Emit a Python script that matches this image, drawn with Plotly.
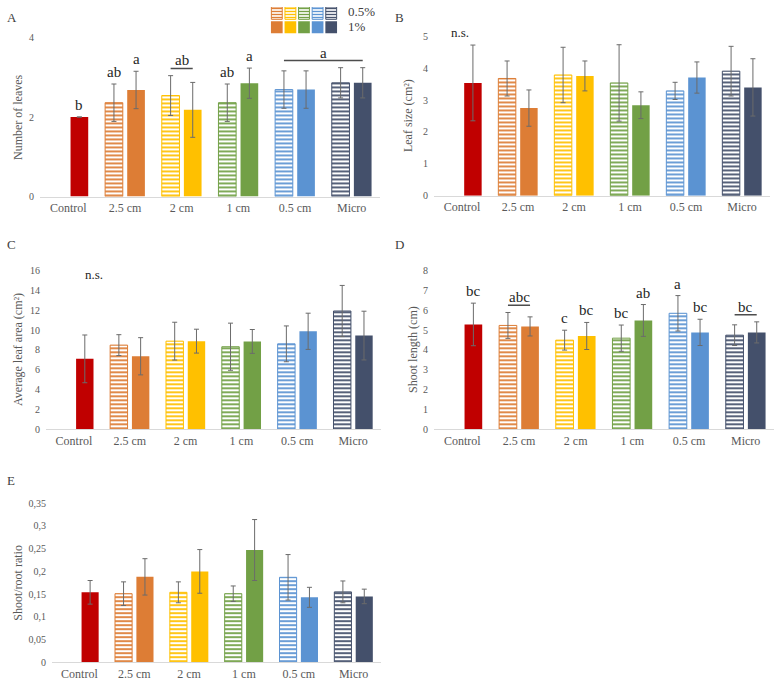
import plotly.graph_objects as go

# Categories and Excel-like palette
CATS = ["Control", "2.5 cm", "2 cm", "1 cm", "0.5 cm", "Micro"]
COLORS = ['#C00000', '#DD7D35', '#FFC000', '#72A046', '#5B93D2', '#44506B']

# A - Number of leaves
leaves_05 = [None, 2.36, 2.54, 2.36, 2.69, 2.86]
leaves_05_err = [0, 0.47, 0.50, 0.47, 0.47, 0.38]
leaves_1 = [2.0, 2.68, 2.18, 2.85, 2.69, 2.86]
leaves_1_err = [0, 0.47, 0.69, 0.38, 0.47, 0.38]

# B - Leaf size
size_05 = [None, 3.68, 3.79, 3.54, 3.29, 3.91]
size_05_err = [0, 0.55, 0.87, 1.20, 0.27, 0.78]
size_1 = [3.54, 2.75, 3.76, 2.84, 3.71, 3.40]
size_1_err = [1.19, 0.57, 0.47, 0.42, 0.49, 0.90]

# C - Average leaf area
area_05 = [None, 8.48, 8.88, 8.32, 8.61, 11.91]
area_05_err = [0, 1.05, 1.90, 2.37, 1.80, 2.57]
area_1 = [7.10, 7.36, 8.88, 8.85, 9.87, 9.44]
area_1_err = [2.40, 1.87, 1.20, 1.20, 1.82, 2.45]

# D - Shoot length
shoot_05 = [None, 5.23, 4.49, 4.59, 5.84, 4.74]
shoot_05_err = [0, 0.65, 0.50, 0.66, 0.89, 0.52]
shoot_1 = [5.28, 5.18, 4.70, 5.48, 4.88, 4.88]
shoot_1_err = [1.07, 0.48, 0.68, 0.80, 0.66, 0.53]

# E - Shoot/root ratio
ratio_05 = [None, 0.151, 0.154, 0.151, 0.187, 0.155]
ratio_05_err = [0, 0.026, 0.023, 0.017, 0.050, 0.024]
ratio_1 = [0.154, 0.188, 0.200, 0.247, 0.143, 0.145]
ratio_1_err = [0.026, 0.040, 0.048, 0.067, 0.022, 0.016]

# significance letters (per bar) and group letters (first cat, last cat, text)
leaves_05_letters = [None, 'ab', None, 'ab', None, None]
leaves_1_letters = ['b', 'a', None, 'a', None, None]
leaves_groups = [(2, 2, 'ab'), (4, 5, 'a')]
shoot_05_letters = [None, None, 'c', 'bc', 'a', None]
shoot_1_letters = ['bc', None, 'bc', 'ab', 'bc', None]
shoot_groups = [(1, 1, 'abc'), (5, 5, 'bc')]

W, H = 776, 689
FONT = 'Liberation Serif'
GREY = '#595959'
OFF = 0.195


def px(x):
    return x / W


def py(y):
    return 1 - y / H


# panel geometry in pixels: (x0, x1, ytop, ybottom)
PANELS = [
    dict(key='A', title='Number of leaves', rng=[0, 4], dtick=2, box=(40, 380, 32, 194),
         v05=leaves_05, e05=leaves_05_err, v1=leaves_1, e1=leaves_1_err, ttl_x=18),
    dict(key='B', title='Leaf size (cm²)', rng=[0, 5], dtick=1, box=(434, 770, 31, 193),
         v05=size_05, e05=size_05_err, v1=size_1, e1=size_1_err, ttl_x=408),
    dict(key='C', title='Average leaf area (cm²)', rng=[0, 16], dtick=2, box=(46, 381, 269, 431),
         v05=area_05, e05=area_05_err, v1=area_1, e1=area_1_err, ttl_x=18),
    dict(key='D', title='Shoot length (cm)', rng=[0, 8], dtick=1, box=(434, 774, 269, 431),
         v05=shoot_05, e05=shoot_05_err, v1=shoot_1, e1=shoot_1_err, ttl_x=413),
    dict(key='E', title='Shoot/root ratio', rng=[0, 0.35], dtick=0.05, box=(52, 381, 506, 668),
         v05=ratio_05, e05=ratio_05_err, v1=ratio_1, e1=ratio_1_err, ttl_x=18),
]
LETTER_POS = {'A': (5, 12), 'B': (393, 12), 'C': (5, 243), 'D': (393, 243), 'E': (5, 483)}

fig = go.Figure()
annotations = []
shapes = []
layout_axes = {}

for i, p in enumerate(PANELS):
    n = '' if i == 0 else str(i + 1)
    xa, ya = 'x' + n, 'y' + n
    x0, x1, yt, yb = p['box']
    layout_axes['xaxis' + n] = dict(
        domain=[px(x0), px(x1)], anchor=ya, type='category', range=[-0.5, 5.5],
        showline=True, linecolor='#d9d9d9', linewidth=1, ticks='', showgrid=False,
        tickfont=dict(size=12, color=GREY, family=FONT), zeroline=False)
    layout_axes['yaxis' + n] = dict(
        domain=[py(yb), py(yt)], anchor=xa, range=p['rng'], dtick=p['dtick'],
        showline=False, showgrid=False, zeroline=False, ticks='',
        tickfont=dict(size=10, color=GREY, family=FONT), ticklabelstandoff=5)

    fig.add_trace(go.Bar(
        x=CATS, y=p['v05'], xaxis=xa, yaxis=ya, offsetgroup='a', name='0.5%',
        marker=dict(color=COLORS, line=dict(color=COLORS, width=1),
                    pattern=dict(shape='-', fillmode='replace', bgcolor='white',
                                 fgcolor=COLORS, size=4, solidity=0.45)),
        error_y=dict(type='data', array=p['e05'], color='#6b6b6b', thickness=1, width=2.5),
        showlegend=False))
    fig.add_trace(go.Bar(
        x=CATS, y=p['v1'], xaxis=xa, yaxis=ya, offsetgroup='b', name='1%',
        marker=dict(color=COLORS, line=dict(width=0)),
        error_y=dict(type='data', array=p['e1'], color='#6b6b6b', thickness=1, width=2.5),
        showlegend=False))

    annotations.append(dict(
        text=p['title'], textangle=-90, xref='paper', yref='paper',
        x=px(p['ttl_x']), y=py((yt + yb) / 2), xanchor='center', yanchor='middle',
        showarrow=False, font=dict(size=12, color=GREY, family=FONT)))
    lx, ly = LETTER_POS[p['key']]
    annotations.append(dict(
        text=p['key'], xref='paper', yref='paper', x=px(lx), y=py(ly),
        xanchor='left', yanchor='middle', showarrow=False,
        font=dict(size=13, color='#404040', family=FONT)))
    p['xa'], p['ya'] = xa, ya

# n.s. labels
annotations.append(dict(text='n.s.', xref='paper', yref='paper', x=px(460), y=py(17),
                        showarrow=False, font=dict(size=13, color='#262626', family=FONT)))
annotations.append(dict(text='n.s.', xref='paper', yref='paper', x=px(83), y=py(273),
                        showarrow=False, font=dict(size=13, color='#262626', family=FONT)))


def add_letters(p, l05, l1, groups):
    span = p['rng'][1] - p['rng'][0]
    for j in range(len(CATS)):
        for letters, vals, errs, sign in ((l05, p['v05'], p['e05'], -1), (l1, p['v1'], p['e1'], 1)):
            if letters[j]:
                annotations.append(dict(
                    text=letters[j], xref=p['xa'], yref=p['ya'], x=j + sign * OFF,
                    y=vals[j] + errs[j], yanchor='bottom', showarrow=False, yshift=2,
                    font=dict(size=15, color='#262626', family=FONT)))
    for c0, c1, txt in groups:
        tops = []
        for c in range(c0, c1 + 1):
            if p['v05'][c] is not None:
                tops.append(p['v05'][c] + p['e05'][c])
            tops.append(p['v1'][c] + p['e1'][c])
        yl = max(tops) + 0.045 * span
        shapes.append(dict(type='line', xref=p['xa'], yref=p['ya'],
                           x0=c0 - OFF, x1=c1 + OFF, y0=yl, y1=yl,
                           line=dict(color='#4d4d4d', width=1.5)))
        annotations.append(dict(
            text=txt, xref=p['xa'], yref=p['ya'], x=(c0 + c1) / 2, y=yl,
            yanchor='bottom', showarrow=False, yshift=-2,
            font=dict(size=15, color='#262626', family=FONT)))


add_letters(PANELS[0], leaves_05_letters, leaves_1_letters, leaves_groups)
add_letters(PANELS[3], shoot_05_letters, shoot_1_letters, shoot_groups)

# custom legend drawn as a tiny bar grid (same offsetgroup so rows line up)
LEG_X = [0, 1, 2, 3, 4]
LEG_COLORS = COLORS[1:]
fig.add_trace(go.Bar(
    x=LEG_X, y=[1] * 5, base=[1.15] * 5, xaxis='x6', yaxis='y6',
    offsetgroup='leg', width=0.8, offset=-0.4,
    marker=dict(color=LEG_COLORS, line=dict(color=LEG_COLORS, width=1),
                pattern=dict(shape='-', fillmode='replace', bgcolor='white',
                             fgcolor=LEG_COLORS, size=3, solidity=0.45)),
    showlegend=False, hoverinfo='skip'))
fig.add_trace(go.Bar(
    x=LEG_X, y=[1] * 5, base=[0] * 5, xaxis='x6', yaxis='y6',
    offsetgroup='leg', width=0.86, offset=-0.43,
    marker=dict(color=LEG_COLORS, line=dict(width=0)),
    showlegend=False, hoverinfo='skip'))
layout_axes['xaxis6'] = dict(domain=[px(270), px(338)], anchor='y6', range=[-0.5, 4.5],
                             visible=False, fixedrange=True)
layout_axes['yaxis6'] = dict(domain=[py(28), py(1)], anchor='x6', range=[0, 2.15],
                             visible=False, fixedrange=True)
annotations.append(dict(text='0.5%', xref='paper', yref='paper', x=px(346), y=py(6),
                        xanchor='left', yanchor='middle', showarrow=False,
                        font=dict(size=13, color='#404040', family=FONT)))
annotations.append(dict(text='1%', xref='paper', yref='paper', x=px(346), y=py(21),
                        xanchor='left', yanchor='middle', showarrow=False,
                        font=dict(size=13, color='#404040', family=FONT)))

fig.update_layout(
    width=W, height=H, margin=dict(l=0, r=0, t=0, b=0),
    paper_bgcolor='white', plot_bgcolor='white',
    barmode='group', bargap=0.22, bargroupgap=0.2,
    separators=',.', showlegend=False,
    font=dict(family=FONT, color=GREY),
    annotations=annotations, shapes=shapes,
    **layout_axes)

# drop the default 8px page margin so the figure fills the window exactly
fig.write_html("out.html", config={'displayModeBar': False},
               post_script="document.body.style.margin = '0';")
